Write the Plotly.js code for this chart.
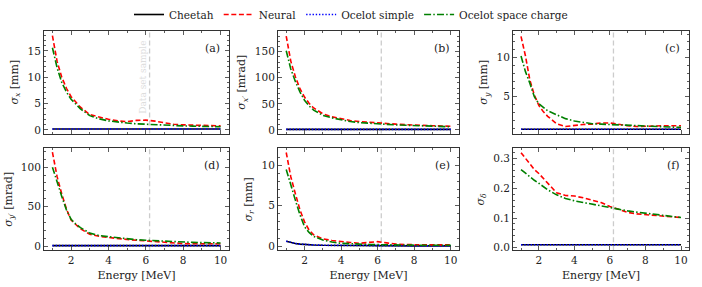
<!DOCTYPE html>
<html><head><meta charset="utf-8">
<script src="https://cdn.plot.ly/plotly-3.0.1.min.js"></script>
<style>html,body{margin:0;padding:0;background:#fff}#plot{width:702px;height:287px}</style>
</head><body><div id="plot"></div>
<script>
const energy = [1, 1.25, 1.5, 1.75, 2, 2.25, 2.5, 3, 3.5, 4, 4.5, 5, 5.5, 6, 6.5, 7, 7.5, 8, 8.5, 9, 9.5, 10];
const sampleEnergy = 6.2;
const seriesNames = ["Cheetah", "Neural", "Ocelot simple", "Ocelot space charge"];
const panelLabels = ["(a)", "(b)", "(c)", "(d)", "(e)", "(f)"];
const yTitles = ["<i>σ<sub>x</sub></i> [mm]", "<i>σ<sub>x′</sub></i> [mrad]", "<i>σ<sub>y</sub></i> [mm]",
                 "<i>σ<sub>y′</sub></i> [mrad]", "<i>σ<sub>r</sub></i> [mm]", "<i>σ<sub>δ</sub></i>"];
const xTitle = "Energy [MeV]";
const sampleText = "Data set sample";

// (a) sigma_x [mm]
const sxCheetah = [0.15,0.15,0.15,0.15,0.15,0.15,0.15,0.15,0.15,0.15,0.15,0.15,0.15,0.15,0.15,0.15,0.15,0.15,0.15,0.15,0.15,0.15];
const sxNeural = [17.9,13.0,10.0,7.9,6.3,5.2,4.3,2.9,2.4,2.0,1.7,1.55,1.8,1.85,1.65,1.3,1.05,0.95,0.9,0.85,0.8,0.75];
const sxSimple = sxCheetah.slice();
const sxSpace = [15.6,11.8,9.0,7.2,5.8,4.8,4.0,2.7,2.1,1.7,1.45,1.3,1.15,1.05,0.95,0.85,0.8,0.75,0.7,0.65,0.62,0.6];
// (b) sigma_x' [mrad]
const sxpCheetah = [1,1,1,1,1,1,1,1,1,1,1,1,1,1,1,1,1,1,1,1,1,1];
const sxpNeural = [180,132,102,79,63,51,42,31,25,21,18,16,14.5,13.5,12.5,11,10,9,8.5,8,7.5,7];
const sxpSimple = sxpCheetah.slice();
const sxpSpace = [152,117,93,73,57,46,38,28,23,19.5,16,14,12.5,11.5,10.5,9.5,9,8,7.5,7,6.5,6];
// (c) sigma_y [mm]
const syCheetah = [0.85,0.85,0.85,0.85,0.85,0.85,0.85,0.85,0.85,0.85,0.85,0.85,0.85,0.85,0.85,0.85,0.85,0.85,0.85,0.85,0.85,0.85];
const syNeural = [12.7,10.2,7.1,5.2,3.9,3.1,2.5,1.55,1.2,1.35,1.45,1.5,1.65,1.65,1.45,1.3,1.2,1.2,1.25,1.3,1.3,1.3];
const sySimple = syCheetah.slice();
const sySpace = [10.2,8.2,6.7,5.0,4.1,3.6,3.2,2.7,2.2,1.9,1.7,1.55,1.5,1.45,1.35,1.3,1.25,1.2,1.17,1.15,1.12,1.1];
// (d) sigma_y' [mrad]
const sypCheetah = [0.7,0.7,0.7,0.7,0.7,0.7,0.7,0.7,0.7,0.7,0.7,0.7,0.7,0.7,0.7,0.7,0.7,0.7,0.7,0.7,0.7,0.7];
const sypNeural = [119,88,66,47,33,27,22,15,12.5,11,9.5,8.5,7.5,6.5,5.5,4.5,3.8,3.3,3.1,3.0,3.0,3.0];
const sypSimple = sypCheetah.slice();
const sypSpace = [100,80,63,46,34,28,23.5,16.5,13.5,12,10.5,9.2,8.2,7.5,6.8,6.2,5.7,5.2,4.8,4.5,4.3,4.1];
// (e) sigma_r [mm]
const srCheetah = [0.6,0.45,0.33,0.25,0.2,0.17,0.14,0.1,0.085,0.07,0.06,0.05,0.045,0.04,0.04,0.035,0.035,0.03,0.03,0.03,0.03,0.03];
const srNeural = [11.6,8.6,6.5,4.5,3.0,2.0,1.4,0.9,0.7,0.55,0.45,0.35,0.45,0.55,0.4,0.25,0.2,0.15,0.15,0.15,0.15,0.15];
const srSimple = srCheetah.slice();
const srSpace = [9.5,7.5,5.7,3.9,2.4,1.7,1.2,0.75,0.5,0.35,0.28,0.22,0.2,0.18,0.15,0.13,0.12,0.11,0.1,0.1,0.1,0.1];
// (f) sigma_delta
const sdCheetah = [0.01,0.01,0.01,0.01,0.01,0.01,0.01,0.01,0.01,0.01,0.01,0.01,0.01,0.01,0.01,0.01,0.01,0.01,0.01,0.01,0.01,0.01];
const sdNeural = [0.32,0.30,0.28,0.263,0.25,0.234,0.217,0.185,0.176,0.174,0.168,0.161,0.152,0.139,0.128,0.119,0.114,0.111,0.108,0.106,0.104,0.102];
const sdSimple = sdCheetah.slice();
const sdSpace = [0.263,0.25,0.238,0.227,0.217,0.205,0.195,0.178,0.166,0.158,0.152,0.147,0.14,0.134,0.129,0.124,0.12,0.117,0.113,0.109,0.105,0.102];

const panels = [
  [sxCheetah, sxNeural, sxSimple, sxSpace],
  [sxpCheetah, sxpNeural, sxpSimple, sxpSpace],
  [syCheetah, syNeural, sySimple, sySpace],
  [sypCheetah, sypNeural, sypSimple, sypSpace],
  [srCheetah, srNeural, srSimple, srSpace],
  [sdCheetah, sdNeural, sdSimple, sdSpace]
];
const yRanges = [[-0.7,18.8],[-7,190],[0.3,13.4],[-5,123.6],[-0.5,12.1],[-0.008,0.334]];
const yDtick = [5,50,5,50,5,0.1];
const yMinor = [1,10,1,10,1,0.02];

const styles = [
  {color:"#000000", dash:"solid", width:1.6},
  {color:"#ff0000", dash:"5px,2.6px", width:1.6},
  {color:"#0000ff", dash:"1.4px,1.8px", width:1.6},
  {color:"#008000", dash:"7px,2.2px,1.5px,2.2px", width:1.6}
];
const font = "DejaVu Serif";
const xDom = [[0.0627,0.3262],[0.396,0.6538],[0.7308,0.9815]];
const yDom = [[0.5366,0.8955],[0.1289,0.4843]];

const traces = [];
const layout = {
  width:702, height:287, margin:{l:0,r:0,t:0,b:0},
  paper_bgcolor:"#fff", plot_bgcolor:"#fff",
  font:{family:font, size:10, color:"#222"},
  showlegend:true,
  legend:{orientation:"h", x:0.5, xanchor:"center", y:0.952, yanchor:"middle",
          font:{family:font, size:10.5, color:"#222"}, bgcolor:"rgba(0,0,0,0)", tracegroupgap:0},
  shapes:[], annotations:[]
};
const drawOrder = [0,2,1,3];
panels.forEach((p, i) => {
  const ax = i === 0 ? "" : String(i+1);
  const row = Math.floor(i/3), col = i%3;
  drawOrder.forEach(s => {
    traces.push({x: energy, y: p[s], type:"scatter", mode:"lines", name: seriesNames[s],
      xaxis:"x"+ax, yaxis:"y"+ax, legendrank: s, showlegend: i===0,
      line:{color:styles[s].color, dash:styles[s].dash, width:styles[s].width}});
  });
  const common = {showline:true, linecolor:"#333", linewidth:1, mirror:"allticks", ticks:"inside",
    ticklen:4, tickwidth:0.8, tickcolor:"#333", showgrid:false, zeroline:false,
    tickfont:{family:font, size:10.5, color:"#222"}};
  layout["xaxis"+ax] = Object.assign({}, common, {
    domain: xDom[col], anchor:"y"+ax, range:[0.55,10.45], tickmode:"linear", tick0:0, dtick:2,
    minor:{dtick:1, tick0:0, ticks:"inside", ticklen:2, tickcolor:"#333"},
    showticklabels: row===1,
    title: row===1 ? {text:xTitle, font:{family:font, size:11, color:"#222"}, standoff:6} : {text:""}
  });
  layout["yaxis"+ax] = Object.assign({}, common, {
    domain: yDom[row], anchor:"x"+ax, range:yRanges[i], tickmode:"linear", tick0:0, dtick:yDtick[i],
    minor:{dtick:yMinor[i], tick0:0, ticks:"inside", ticklen:2, tickcolor:"#333"},
    tickformat: i===5 ? ".1f" : "",
    title:{text:yTitles[i], font:{family:font, size:11, color:"#222"}, standoff:6}
  });
  layout.shapes.push({type:"line", xref:"x"+ax, yref:"y"+ax+" domain", x0:sampleEnergy, x1:sampleEnergy, y0:0, y1:1,
    line:{color:"#cccccc", width:1.3, dash:"5px,3px"}, layer:"below"});
  layout.annotations.push({xref:"x"+ax+" domain", yref:"y"+ax+" domain", x:0.96, y:0.83, xanchor:"right", yanchor:"middle",
    text:panelLabels[i], showarrow:false, font:{family:font, size:11, color:"#222"}});
});
layout.annotations.push({xref:"x", yref:"y", x:5.85, y:9.9, text:sampleText, textangle:-90, showarrow:false,
  xanchor:"center", yanchor:"middle", font:{family:font, size:9, color:"#dddddd"}});

Plotly.newPlot("plot", traces, layout, {staticPlot:true, displayModeBar:false});
</script></body></html>
